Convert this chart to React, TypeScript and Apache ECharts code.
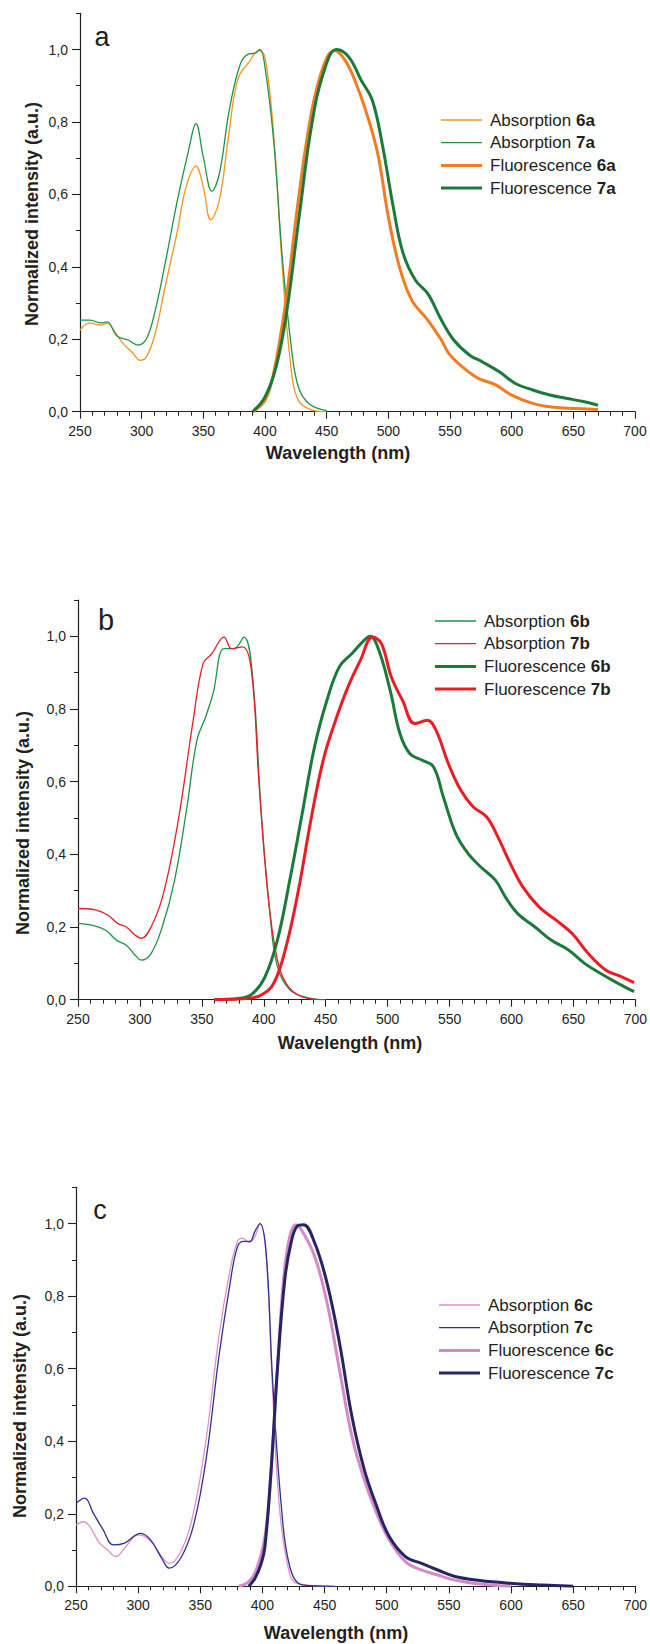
import React, { useEffect, useRef } from 'react';
import * as echarts from 'echarts';

const yMajorValues = [0, 0.2, 0.4, 0.6, 0.8, 1.0];
const yMinorValues = [0.1, 0.3, 0.5, 0.7, 0.9, 1.1];

// Panel a
const abs6a = [[250,0.225],[258,0.245],[267,0.239],[272,0.244],[279,0.216],[285,0.188],[292,0.165],[299,0.142],[304,0.152],[311,0.216],[319,0.345],[329,0.5],[336,0.62],[344,0.678],[350,0.62],[356,0.53],[363,0.584],[370,0.749],[378,0.919],[387,0.965],[395,0.997],[400,0.979],[407,0.767],[414,0.4],[421,0.124],[427,0.032],[437,0.006],[450,0]];
const abs7a = [[250,0.253],[258,0.253],[267,0.245],[272,0.248],[280,0.209],[289,0.198],[297,0.184],[304,0.202],[311,0.28],[319,0.409],[329,0.584],[338,0.721],[344,0.795],[350,0.703],[357,0.609],[363,0.657],[371,0.832],[380,0.96],[387,0.988],[392,0.99],[396,1.0],[400,0.951],[407,0.749],[414,0.427],[421,0.188],[427,0.069],[436,0.021],[450,0.003]];
const fl6a = [[390,0],[400,0.032],[407,0.106],[417,0.308],[427,0.584],[438,0.832],[448,0.96],[456,0.997],[465,0.97],[475,0.896],[485,0.795],[492,0.703],[500,0.538],[509,0.4],[519,0.308],[532,0.253],[543,0.198],[549,0.161],[560,0.124],[573,0.092],[587,0.074],[600,0.046],[617,0.023],[634,0.012],[651,0.009],[670,0.006]];
const fl7a = [[390,0],[400,0.041],[409,0.124],[417,0.262],[428,0.547],[438,0.795],[448,0.942],[458,1.0],[468,0.979],[478,0.915],[487,0.86],[495,0.74],[504,0.565],[512,0.437],[522,0.363],[532,0.326],[543,0.253],[553,0.198],[566,0.156],[576,0.138],[590,0.11],[603,0.078],[617,0.06],[631,0.046],[644,0.037],[658,0.028],[670,0.018]];

// Panel b
const abs6b = [[250,0.21],[261,0.205],[272,0.192],[281,0.164],[289,0.15],[296,0.123],[301,0.109],[309,0.127],[318,0.2],[328,0.329],[338,0.531],[346,0.714],[353,0.778],[359,0.842],[368,0.966],[376,0.966],[384,0.998],[391,0.888],[398,0.512],[405,0.237],[411,0.091],[421,0.027],[435,0.006],[450,0]];
const abs7b = [[250,0.251],[264,0.247],[274,0.233],[282,0.21],[289,0.2],[296,0.178],[301,0.169],[309,0.2],[319,0.292],[331,0.494],[343,0.769],[351,0.925],[358,0.952],[368,0.998],[374,0.966],[383,0.971],[390,0.906],[396,0.604],[403,0.302],[410,0.127],[418,0.045],[431,0.008],[450,0]];
const fl6b = [[360,0],[381,0.004],[391,0.017],[401,0.063],[411,0.164],[421,0.329],[431,0.512],[441,0.696],[451,0.824],[461,0.916],[471,0.952],[481,0.989],[486,1.0],[493,0.961],[502,0.852],[510,0.732],[518,0.677],[528,0.659],[537,0.641],[545,0.558],[555,0.457],[565,0.402],[575,0.366],[587,0.329],[595,0.283],[605,0.237],[619,0.2],[632,0.164],[646,0.137],[659,0.1],[672,0.072],[686,0.045],[699,0.022]];
const fl7b = [[360,0],[388,0.004],[398,0.013],[408,0.045],[418,0.146],[428,0.302],[438,0.494],[448,0.659],[458,0.769],[468,0.861],[478,0.934],[488,0.998],[495,0.98],[503,0.888],[512,0.824],[522,0.76],[532,0.769],[539,0.742],[549,0.65],[559,0.577],[569,0.531],[580,0.503],[589,0.448],[599,0.375],[609,0.311],[622,0.256],[636,0.219],[649,0.182],[662,0.127],[676,0.082],[689,0.063],[699,0.047]];

// Panel c
const abs6c = [[250,0.169],[256,0.178],[261,0.165],[269,0.119],[274,0.105],[282,0.082],[290,0.109],[300,0.142],[309,0.128],[319,0.082],[325,0.063],[335,0.1],[345,0.211],[355,0.413],[365,0.689],[374,0.873],[380,0.951],[384,0.96],[389,0.948],[394,0.965],[398,1.0],[403,0.91],[408,0.552],[413,0.247],[420,0.063],[428,0.008],[458,0]];
const abs7c = [[250,0.229],[257,0.243],[264,0.201],[272,0.155],[280,0.114],[289,0.119],[302,0.146],[310,0.128],[319,0.077],[325,0.05],[335,0.082],[345,0.174],[355,0.358],[365,0.634],[374,0.836],[380,0.937],[385,0.951],[390,0.951],[394,0.979],[398,1.0],[403,0.919],[408,0.579],[415,0.229],[422,0.054],[432,0.004],[458,0]];
const fl6c = [[381,0],[389,0.013],[395,0.045],[402,0.137],[407,0.321],[412,0.597],[417,0.846],[422,0.965],[427,0.997],[432,0.979],[442,0.91],[452,0.781],[462,0.597],[472,0.413],[482,0.293],[492,0.201],[502,0.128],[515,0.068],[528,0.045],[541,0.031],[555,0.017],[571,0.008],[600,0]];
const fl7c = [[389,0],[394,0.022],[399,0.063],[402,0.109],[407,0.321],[412,0.597],[418,0.846],[423,0.947],[428,0.993],[433,0.997],[442,0.947],[452,0.836],[462,0.671],[472,0.468],[482,0.321],[492,0.22],[502,0.137],[515,0.082],[528,0.063],[541,0.045],[555,0.027],[575,0.016],[601,0.008],[621,0.004],[650,0]];

const panelLetters = ['a', 'b', 'c'];
const xTitle = 'Wavelength (nm)';
const yTitle = 'Normalized intensity (a.u.)';

const INK = '#231F20';
const FONT = '"Liberation Sans", Arial, sans-serif';
const THIN = 1.3;
const THICK = 3;

const panels = [
  {
    grid: { left: 80, top: 13.3, width: 555, height: 398.4 },
    legend: { left: 436, top: 106 },
    letter: { x: 102, y: 37, size: 27 },
    xTitle: { x: 338, y: 453 },
    yTitle: { x: 32, y: 214 },
    series: [
      { name: 'Absorption 6a', data: abs6a, color: '#F7941D', width: THIN },
      { name: 'Absorption 7a', data: abs7a, color: '#1E9447', width: THIN },
      { name: 'Fluorescence 6a', data: fl6a, color: '#F47B20', width: THICK },
      { name: 'Fluorescence 7a', data: fl7a, color: '#1B7A3A', width: THICK },
    ],
  },
  {
    grid: { left: 78, top: 600, width: 560, height: 399.7 },
    legend: { left: 430, top: 607 },
    letter: { x: 106, y: 620, size: 29 },
    xTitle: { x: 350, y: 1043 },
    yTitle: { x: 23, y: 823 },
    series: [
      { name: 'Absorption 6b', data: abs6b, color: '#1E9447', width: THIN },
      { name: 'Absorption 7b', data: abs7b, color: '#ED1C24', width: THIN },
      { name: 'Fluorescence 6b', data: fl6b, color: '#1B7A3A', width: THICK },
      { name: 'Fluorescence 7b', data: fl7b, color: '#ED1C24', width: THICK },
    ],
  },
  {
    grid: { left: 76, top: 1187.3, width: 564, height: 399 },
    legend: { left: 434, top: 1291 },
    letter: { x: 100, y: 1210, size: 27 },
    xTitle: { x: 336, y: 1633 },
    yTitle: { x: 20, y: 1406 },
    series: [
      { name: 'Absorption 6c', data: abs6c, color: '#E08FC9', width: THIN },
      { name: 'Absorption 7c', data: abs7c, color: '#2E3192', width: THIN },
      { name: 'Fluorescence 6c', data: fl6c, color: '#D48BC3', width: THICK },
      { name: 'Fluorescence 7c', data: fl7c, color: '#262366', width: THICK },
    ],
  },
];

function lineIcon(w: number) {
  return `path://M0 0H41V${w}H0Z`;
}

function buildOption() {
  const grid: any[] = [];
  const xAxis: any[] = [];
  const yAxis: any[] = [];
  const legend: any[] = [];
  const series: any[] = [];
  const graphic: any[] = [];
  const axisLineStyle = { color: INK, width: 1.2 };

  panels.forEach((p, i) => {
    grid.push({ ...p.grid, containLabel: false });
    xAxis.push({
      type: 'value', gridIndex: i, min: 250, max: 700, interval: 50,
      axisLine: { show: true, onZero: false, lineStyle: axisLineStyle },
      axisTick: { show: true, length: 7, lineStyle: { color: INK, width: 1.1 } },
      minorTick: { show: true, splitNumber: 5, length: 4, lineStyle: { color: INK, width: 1 } },
      splitLine: { show: false }, minorSplitLine: { show: false },
      axisLabel: { fontSize: 14, fontFamily: FONT, color: INK, margin: 12, showMinLabel: true, showMaxLabel: true },
    });
    yAxis.push({
      type: 'value', gridIndex: i, min: 0, max: 1.1, interval: 0.2,
      axisLine: { show: true, onZero: false, lineStyle: axisLineStyle },
      axisTick: { show: true, length: 8, customValues: yMajorValues, lineStyle: { color: INK, width: 1.1 } },
      splitLine: { show: false },
      axisLabel: {
        fontSize: 14, fontFamily: FONT, color: INK, margin: 12, customValues: yMajorValues,
        formatter: (v: number) => v.toFixed(1).replace('.', ','),
      },
    });
    yAxis.push({
      type: 'value', gridIndex: i, min: 0, max: 1.1, position: 'left',
      axisLine: { show: false },
      axisTick: { show: true, length: 4, customValues: yMinorValues, lineStyle: { color: INK, width: 1 } },
      splitLine: { show: false },
      axisLabel: { show: false },
    });
    legend.push({
      orient: 'vertical', left: p.legend.left, top: p.legend.top,
      itemWidth: 41, itemHeight: 14, itemGap: 4.7, selectedMode: false,
      data: p.series.map((s) => ({ name: s.name, icon: lineIcon(s.width) })),
      formatter: (name: string) => {
        const k = name.lastIndexOf(' ');
        return name.slice(0, k + 1) + '{b|' + name.slice(k + 1) + '}';
      },
      textStyle: {
        fontFamily: FONT, fontSize: 17, color: INK, lineHeight: 18, padding: [0, 0, 0, 3],
        rich: { b: { fontFamily: FONT, fontSize: 17, fontWeight: 'bold', color: INK, lineHeight: 18 } },
      },
    });
    p.series.forEach((s) => {
      series.push({
        type: 'line', name: s.name, data: s.data, xAxisIndex: i, yAxisIndex: i * 2,
        symbol: 'none', showSymbol: false, smooth: 0.4,
        color: s.color,
        itemStyle: { color: s.color },
        lineStyle: { color: s.color, width: s.width },
        z: s.width > 2 ? 3 : 2,
      });
    });
    graphic.push({
      type: 'text', x: p.letter.x, y: p.letter.y,
      style: { text: panelLetters[i], font: `${p.letter.size}px ${FONT}`, fill: INK, align: 'center', verticalAlign: 'middle' },
    });
    graphic.push({
      type: 'text', x: p.xTitle.x, y: p.xTitle.y,
      style: { text: xTitle, font: `bold 18px ${FONT}`, fill: INK, align: 'center', verticalAlign: 'middle' },
    });
    graphic.push({
      type: 'text', x: p.yTitle.x, y: p.yTitle.y, rotation: Math.PI / 2,
      style: { text: yTitle, font: `bold 18px ${FONT}`, fill: INK, align: 'center', verticalAlign: 'middle' },
    });
  });

  return {
    animation: false,
    backgroundColor: '#ffffff',
    grid, xAxis, yAxis, legend, series, graphic,
  };
}

export default function App() {
  const ref = useRef<HTMLDivElement>(null);
  useEffect(() => {
    if (!ref.current) return;
    const chart = echarts.init(ref.current, undefined, { renderer: 'svg' });
    chart.setOption(buildOption() as any);
    return () => chart.dispose();
  }, []);
  return (
    <div
      ref={ref}
      style={{ position: 'absolute', left: 0, top: 0, width: 650, height: 1644, background: '#fff' }}
    />
  );
}
